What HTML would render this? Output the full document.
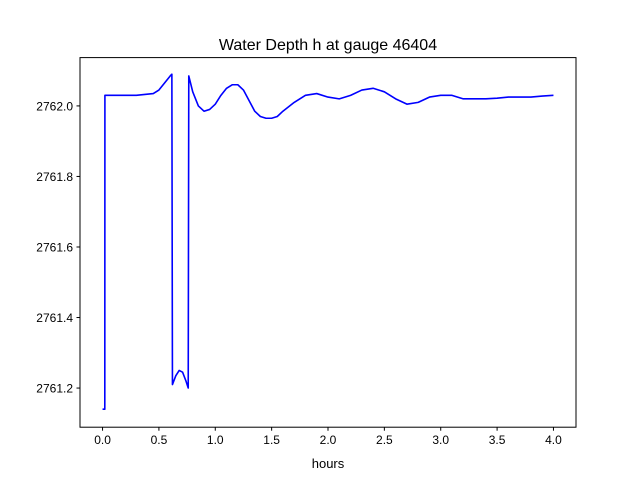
<!DOCTYPE html>
<html><head><meta charset="utf-8"><style>
body{margin:0;background:#fff;}
svg text{font-family:"Liberation Sans","DejaVu Sans",sans-serif;}
</style></head><body>
<svg width="640" height="480" viewBox="0 0 640 480">
<rect width="640" height="480" fill="#fff"/>
<text x="328" y="50" font-size="16" text-anchor="middle">Water Depth h at gauge 46404</text>
<g id="ticks"></g>
<path id="line" fill="none" stroke="#0000ff" stroke-width="1.6" stroke-linejoin="round"/>
<rect x="80" y="57.6" width="496" height="369.6" fill="none" stroke="#000" stroke-width="1"/>
<text x="328" y="468" font-size="13" text-anchor="middle">hours</text>
</svg>
<script>
const hours=[0,0.02,0.021,0.3,0.45,0.5,0.55,0.6,0.615,0.62,0.65,0.68,0.71,0.74,0.76,0.765,0.8,0.85,0.9,0.95,1.0,1.05,1.1,1.15,1.2,1.25,1.3,1.35,1.4,1.45,1.5,1.55,1.6,1.7,1.8,1.9,2.0,2.1,2.2,2.3,2.4,2.5,2.6,2.7,2.8,2.9,3.0,3.1,3.2,3.3,3.4,3.5,3.6,3.7,3.8,3.9,4.0];
const depth=[2761.14,2761.14,2762.03,2762.03,2762.035,2762.045,2762.065,2762.085,2762.09,2761.21,2761.235,2761.25,2761.245,2761.22,2761.2,2762.085,2762.04,2762.0,2761.985,2761.99,2762.005,2762.03,2762.05,2762.06,2762.06,2762.045,2762.015,2761.985,2761.97,2761.965,2761.965,2761.97,2761.985,2762.01,2762.03,2762.035,2762.025,2762.02,2762.03,2762.045,2762.05,2762.04,2762.02,2762.005,2762.01,2762.025,2762.03,2762.03,2762.02,2762.02,2762.02,2762.022,2762.025,2762.025,2762.025,2762.028,2762.03];
const xTicks=[0,0.5,1,1.5,2,2.5,3,3.5,4];
const xTickLabels=["0.0","0.5","1.0","1.5","2.0","2.5","3.0","3.5","4.0"];
const yTicks=[2761.2,2761.4,2761.6,2761.8,2762.0];
const yTickLabels=["2761.2","2761.4","2761.6","2761.8","2762.0"];
const X0=-0.2,X1=4.2,Y0=2761.089,Y1=2762.137;
const L=80,R=576,T=57.6,B=427.2;
const sx=v=>L+(v-X0)/(X1-X0)*(R-L);
const sy=v=>B-(v-Y0)/(Y1-Y0)*(B-T);
const NS="http://www.w3.org/2000/svg";
const g=document.getElementById('ticks');
function mk(tag,attrs){const e=document.createElementNS(NS,tag);for(const k in attrs)e.setAttribute(k,attrs[k]);return e;}
xTicks.forEach((v,i)=>{
  const l=mk('line',{x1:sx(v),x2:sx(v),y1:B,y2:B+3.5,stroke:'#000'});
  
  
  g.appendChild(l);
  const t=mk('text',{x:sx(v),y:B+17,'font-size':12,'text-anchor':'middle'});
  
  
  t.textContent=xTickLabels[i];g.appendChild(t);
});
yTicks.forEach((v,i)=>{
  const l=mk('line',{x1:L-3.5,x2:L,y1:sy(v),y2:sy(v),stroke:'#000'});
  
  
  g.appendChild(l);
  const t=mk('text',{x:L-7,y:sy(v)+4.5,'font-size':12,'text-anchor':'end'});
  
  
  t.textContent=yTickLabels[i];g.appendChild(t);
});
document.getElementById('line').setAttribute('d',hours.map((h,i)=>(i?'L':'M')+sx(h).toFixed(2)+','+sy(depth[i]).toFixed(2)).join(''));
</script>
</body></html>
